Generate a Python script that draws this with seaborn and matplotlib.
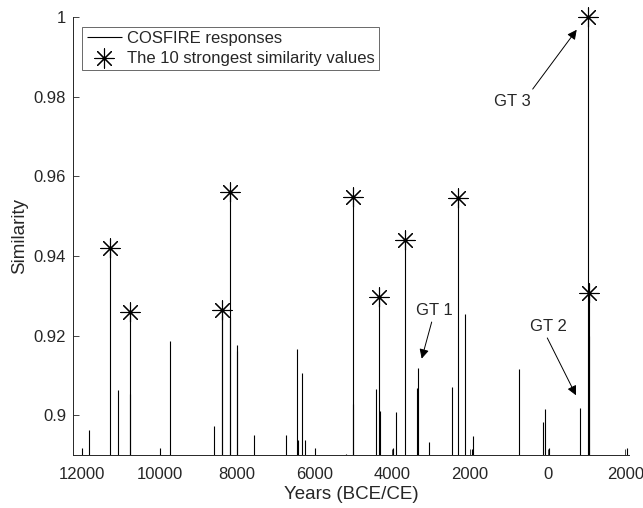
import numpy as np
import pandas as pd
import matplotlib
matplotlib.use('Agg')
import matplotlib.pyplot as plt
import seaborn as sns

# ====================
#  DATA
# ====================

# years (negative = BCE) and similarity of each COSFIRE response
years = [-12008, -11820, -11271, -11065, -10771, -10755, -9998, -9740,
         -8598, -8397, -8384, -8194, -8178, -8013, -8003, -7575,
         -6743, -6452, -6426, -6338, -6253, -5988, -5197, -5024,
         -5009, -4431, -4346, -4330, -3978, -3916, -3669, -3367,
         -3341, -3066, -2465, -2318, -2122, -1957, -1932,
         -731, -112, -61, 42, 825, 1032, 1058, 1073, 2052]
similarity = [0.8918, 0.8963, 0.9419, 0.9063, 0.9259, 0.9053, 0.8917, 0.9186,
              0.8973, 0.9250, 0.9265, 0.9561, 0.9247, 0.9176, 0.9160, 0.8950,
              0.8950, 0.9165, 0.8937, 0.9107, 0.8938, 0.8917, 0.8903, 0.9548,
              0.9028, 0.9065, 0.9298, 0.9010, 0.8917, 0.9008, 0.9440, 0.9069,
              0.9119, 0.8933, 0.9071, 0.9546, 0.9254, 0.8915, 0.8948,
              0.9117, 0.8983, 0.9015, 0.8917, 0.9019, 1.0000, 0.9307, 0.9200,
              0.8917]

# ground truth annotations: label, text position, arrow tail, arrow tip
gt_labels = ['GT 1', 'GT 2', 'GT 3']
gt_text_xy = [(-2929, 0.9262), (16, 0.9223), (-911, 0.9787)]
gt_tail_xy = [(-2988, 0.9234), (-10, 0.9194), (-386, 0.9819)]
gt_tip_xy = [(-3246, 0.9142), (730, 0.9050), (748, 0.9968)]

xticks = [-12000, -10000, -8000, -6000, -4000, -2000, 0, 2000]
xtick_labels = ['12000', '10000', '8000', '6000', '4000', '2000', '0', '2000']
yticks = [0.9, 0.92, 0.94, 0.96, 0.98, 1.0]
ytick_labels = ['0.9', '0.92', '0.94', '0.96', '0.98', '1']


def main():
    sns.set_theme(style='ticks')
    plt.rcParams['font.family'] = ['Liberation Sans', 'DejaVu Sans']

    data = pd.DataFrame({'year': years, 'sim': similarity})
    top10 = data.nlargest(10, 'sim')

    fig = plt.figure(figsize=(6.43, 5.08), dpi=100)
    ax = fig.add_axes([0.1135, 0.1043, 0.865, 0.8622])

    ax.vlines(data['year'], 0.89, data['sim'], color='black', linewidth=0.8,
              label='COSFIRE responses')
    sns.scatterplot(data=top10, x='year', y='sim', marker=(8, 2, 0), s=190,
                    color='black', edgecolor='black', linewidth=0.8, ax=ax,
                    label='The 10 strongest similarity values', zorder=3,
                    clip_on=False)

    for lab, txy, tail, tip in zip(gt_labels, gt_text_xy, gt_tail_xy, gt_tip_xy):
        ax.text(txy[0], txy[1], lab, ha='center', va='center', fontsize=12)
        ax.annotate('', xy=tip, xytext=tail,
                    arrowprops=dict(arrowstyle='-|>', color='black', lw=0.7,
                                    mutation_scale=14, shrinkA=0, shrinkB=0))

    ax.set_xlim(-12230, 2100)
    ax.set_ylim(0.89, 1.0)
    ax.set_xticks(xticks)
    ax.set_xticklabels(xtick_labels)
    ax.set_yticks(yticks)
    ax.set_yticklabels(ytick_labels)
    ax.tick_params(direction='in', length=4, width=0.6, labelsize=12,
                   colors='#262626', pad=5)
    ax.tick_params(axis='x', pad=8.5)
    for side in ['top', 'right']:
        ax.spines[side].set_visible(False)
    for side in ['left', 'bottom']:
        ax.spines[side].set_linewidth(0.7)
        ax.spines[side].set_color('#262626')

    ax.set_xlabel('Years (BCE/CE)', fontsize=13.5, color='#262626', labelpad=3)
    ax.set_ylabel('Similarity', fontsize=13.5, color='#262626', labelpad=4)

    leg = ax.legend(loc='upper left', bbox_to_anchor=(0.017, 0.978),
                    fontsize=12, frameon=True, fancybox=False,
                    borderpad=0.25, labelspacing=0.3, handlelength=2.1,
                    handletextpad=0.3, borderaxespad=0)
    leg.get_frame().set_edgecolor('#262626')
    leg.get_frame().set_linewidth(0.6)

    fig.savefig('out.png', dpi=100)
    plt.close(fig)


if __name__ == "__main__":
    main()
